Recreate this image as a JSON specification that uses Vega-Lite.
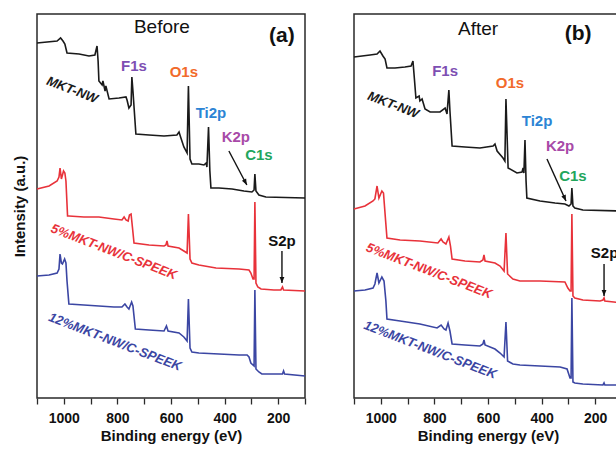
{
"$schema": "https://vega.github.io/schema/vega-lite/v6.json",
"padding": {"left": 11, "top": 13, "right": 0, "bottom": 0},
"spacing": 41,
"config": {"font": "Liberation Sans", "view": {"stroke": "#2a2a2a", "strokeWidth": 1.5}},
"datasets": {
"spec": [
{"p":"a","k":"bk","e":1100,"v":355},{"p":"a","k":"bk","e":1025,"v":357},{"p":"a","k":"bk","e":1012,"v":360},{"p":"a","k":"bk","e":1003,"v":357},{"p":"a","k":"bk","e":996,"v":354},{"p":"a","k":"bk","e":988,"v":345},{"p":"a","k":"bk","e":943,"v":344},{"p":"a","k":"bk","e":906,"v":342},{"p":"a","k":"bk","e":884,"v":343},{"p":"a","k":"bk","e":876,"v":352},{"p":"a","k":"bk","e":872,"v":337},{"p":"a","k":"bk","e":869,"v":317},{"p":"a","k":"bk","e":857,"v":313},{"p":"a","k":"bk","e":854,"v":317},{"p":"a","k":"bk","e":846,"v":307},{"p":"a","k":"bk","e":843,"v":312},{"p":"a","k":"bk","e":831,"v":299},{"p":"a","k":"bk","e":794,"v":300},{"p":"a","k":"bk","e":768,"v":301},{"p":"a","k":"bk","e":764,"v":298},{"p":"a","k":"bk","e":757,"v":290},{"p":"a","k":"bk","e":749,"v":293},{"p":"a","k":"bk","e":746,"v":321},{"p":"a","k":"bk","e":742,"v":307},{"p":"a","k":"bk","e":731,"v":264},{"p":"a","k":"bk","e":682,"v":263},{"p":"a","k":"bk","e":626,"v":262},{"p":"a","k":"bk","e":578,"v":263},{"p":"a","k":"bk","e":570,"v":266},{"p":"a","k":"bk","e":563,"v":260},{"p":"a","k":"bk","e":552,"v":251},{"p":"a","k":"bk","e":540,"v":245},{"p":"a","k":"bk","e":535,"v":312},{"p":"a","k":"bk","e":529,"v":239},{"p":"a","k":"bk","e":522,"v":234},{"p":"a","k":"bk","e":496,"v":234},{"p":"a","k":"bk","e":477,"v":233},{"p":"a","k":"bk","e":469,"v":235},{"p":"a","k":"bk","e":466,"v":231},{"p":"a","k":"bk","e":460,"v":271},{"p":"a","k":"bk","e":455,"v":227},{"p":"a","k":"bk","e":451,"v":210},{"p":"a","k":"bk","e":421,"v":210},{"p":"a","k":"bk","e":372,"v":209},{"p":"a","k":"bk","e":328,"v":207},{"p":"a","k":"bk","e":298,"v":206},{"p":"a","k":"bk","e":290,"v":208},{"p":"a","k":"bk","e":287,"v":224},{"p":"a","k":"bk","e":283,"v":207},{"p":"a","k":"bk","e":272,"v":203},{"p":"a","k":"bk","e":246,"v":201},{"p":"a","k":"bk","e":100,"v":200},
{"p":"a","k":"rd","e":1100,"v":209},{"p":"a","k":"rd","e":1055,"v":212},{"p":"a","k":"rd","e":1025,"v":217},{"p":"a","k":"rd","e":1018,"v":221},{"p":"a","k":"rd","e":1014,"v":230},{"p":"a","k":"rd","e":1009,"v":219},{"p":"a","k":"rd","e":1001,"v":227},{"p":"a","k":"rd","e":996,"v":225},{"p":"a","k":"rd","e":992,"v":217},{"p":"a","k":"rd","e":986,"v":182},{"p":"a","k":"rd","e":981,"v":182},{"p":"a","k":"rd","e":925,"v":181},{"p":"a","k":"rd","e":869,"v":181},{"p":"a","k":"rd","e":813,"v":179},{"p":"a","k":"rd","e":783,"v":178},{"p":"a","k":"rd","e":775,"v":181},{"p":"a","k":"rd","e":768,"v":178},{"p":"a","k":"rd","e":760,"v":177},{"p":"a","k":"rd","e":755,"v":183},{"p":"a","k":"rd","e":749,"v":184},{"p":"a","k":"rd","e":744,"v":171},{"p":"a","k":"rd","e":738,"v":155},{"p":"a","k":"rd","e":682,"v":153},{"p":"a","k":"rd","e":626,"v":152},{"p":"a","k":"rd","e":619,"v":153},{"p":"a","k":"rd","e":615,"v":157},{"p":"a","k":"rd","e":611,"v":152},{"p":"a","k":"rd","e":570,"v":150},{"p":"a","k":"rd","e":552,"v":147},{"p":"a","k":"rd","e":540,"v":145},{"p":"a","k":"rd","e":535,"v":184},{"p":"a","k":"rd","e":529,"v":139},{"p":"a","k":"rd","e":522,"v":135},{"p":"a","k":"rd","e":496,"v":133},{"p":"a","k":"rd","e":432,"v":130},{"p":"a","k":"rd","e":346,"v":129},{"p":"a","k":"rd","e":309,"v":128},{"p":"a","k":"rd","e":302,"v":125},{"p":"a","k":"rd","e":294,"v":119},{"p":"a","k":"rd","e":290,"v":119},{"p":"a","k":"rd","e":287,"v":196},{"p":"a","k":"rd","e":283,"v":115},{"p":"a","k":"rd","e":276,"v":111},{"p":"a","k":"rd","e":264,"v":109},{"p":"a","k":"rd","e":216,"v":108},{"p":"a","k":"rd","e":190,"v":108},{"p":"a","k":"rd","e":184,"v":111},{"p":"a","k":"rd","e":180,"v":108},{"p":"a","k":"rd","e":100,"v":107},
{"p":"a","k":"bl","e":1100,"v":122},{"p":"a","k":"bl","e":1055,"v":123},{"p":"a","k":"bl","e":1025,"v":125},{"p":"a","k":"bl","e":1018,"v":129},{"p":"a","k":"bl","e":1014,"v":144},{"p":"a","k":"bl","e":1009,"v":135},{"p":"a","k":"bl","e":1005,"v":134},{"p":"a","k":"bl","e":997,"v":139},{"p":"a","k":"bl","e":992,"v":135},{"p":"a","k":"bl","e":988,"v":117},{"p":"a","k":"bl","e":981,"v":94},{"p":"a","k":"bl","e":925,"v":93},{"p":"a","k":"bl","e":869,"v":92},{"p":"a","k":"bl","e":813,"v":91},{"p":"a","k":"bl","e":783,"v":91},{"p":"a","k":"bl","e":772,"v":94},{"p":"a","k":"bl","e":764,"v":91},{"p":"a","k":"bl","e":757,"v":89},{"p":"a","k":"bl","e":747,"v":96},{"p":"a","k":"bl","e":742,"v":92},{"p":"a","k":"bl","e":733,"v":69},{"p":"a","k":"bl","e":682,"v":68},{"p":"a","k":"bl","e":626,"v":67},{"p":"a","k":"bl","e":617,"v":72},{"p":"a","k":"bl","e":611,"v":67},{"p":"a","k":"bl","e":570,"v":65},{"p":"a","k":"bl","e":552,"v":61},{"p":"a","k":"bl","e":540,"v":57},{"p":"a","k":"bl","e":535,"v":99},{"p":"a","k":"bl","e":529,"v":50},{"p":"a","k":"bl","e":522,"v":46},{"p":"a","k":"bl","e":496,"v":45},{"p":"a","k":"bl","e":421,"v":44},{"p":"a","k":"bl","e":346,"v":43},{"p":"a","k":"bl","e":316,"v":43},{"p":"a","k":"bl","e":309,"v":41},{"p":"a","k":"bl","e":302,"v":35},{"p":"a","k":"bl","e":290,"v":32},{"p":"a","k":"bl","e":287,"v":108},{"p":"a","k":"bl","e":283,"v":29},{"p":"a","k":"bl","e":272,"v":26},{"p":"a","k":"bl","e":261,"v":24},{"p":"a","k":"bl","e":216,"v":24},{"p":"a","k":"bl","e":184,"v":24},{"p":"a","k":"bl","e":180,"v":27},{"p":"a","k":"bl","e":176,"v":24},{"p":"a","k":"bl","e":100,"v":22},
{"p":"b","k":"bk","e":1100,"v":341},{"p":"b","k":"bk","e":1040,"v":343},{"p":"b","k":"bk","e":1014,"v":344},{"p":"b","k":"bk","e":1003,"v":347},{"p":"b","k":"bk","e":992,"v":342},{"p":"b","k":"bk","e":984,"v":339},{"p":"b","k":"bk","e":977,"v":330},{"p":"b","k":"bk","e":947,"v":330},{"p":"b","k":"bk","e":910,"v":331},{"p":"b","k":"bk","e":887,"v":332},{"p":"b","k":"bk","e":880,"v":337},{"p":"b","k":"bk","e":874,"v":317},{"p":"b","k":"bk","e":869,"v":300},{"p":"b","k":"bk","e":857,"v":302},{"p":"b","k":"bk","e":854,"v":297},{"p":"b","k":"bk","e":846,"v":299},{"p":"b","k":"bk","e":835,"v":289},{"p":"b","k":"bk","e":816,"v":286},{"p":"b","k":"bk","e":779,"v":286},{"p":"b","k":"bk","e":760,"v":290},{"p":"b","k":"bk","e":753,"v":284},{"p":"b","k":"bk","e":746,"v":308},{"p":"b","k":"bk","e":742,"v":287},{"p":"b","k":"bk","e":734,"v":252},{"p":"b","k":"bk","e":686,"v":251},{"p":"b","k":"bk","e":630,"v":250},{"p":"b","k":"bk","e":581,"v":252},{"p":"b","k":"bk","e":574,"v":254},{"p":"b","k":"bk","e":566,"v":247},{"p":"b","k":"bk","e":544,"v":240},{"p":"b","k":"bk","e":537,"v":237},{"p":"b","k":"bk","e":533,"v":299},{"p":"b","k":"bk","e":525,"v":230},{"p":"b","k":"bk","e":492,"v":225},{"p":"b","k":"bk","e":473,"v":226},{"p":"b","k":"bk","e":469,"v":230},{"p":"b","k":"bk","e":466,"v":225},{"p":"b","k":"bk","e":462,"v":258},{"p":"b","k":"bk","e":458,"v":217},{"p":"b","k":"bk","e":455,"v":200},{"p":"b","k":"bk","e":406,"v":197},{"p":"b","k":"bk","e":350,"v":195},{"p":"b","k":"bk","e":313,"v":194},{"p":"b","k":"bk","e":298,"v":192},{"p":"b","k":"bk","e":290,"v":194},{"p":"b","k":"bk","e":287,"v":210},{"p":"b","k":"bk","e":283,"v":192},{"p":"b","k":"bk","e":276,"v":190},{"p":"b","k":"bk","e":246,"v":188},{"p":"b","k":"bk","e":100,"v":187},
{"p":"b","k":"rd","e":1100,"v":189},{"p":"b","k":"rd","e":1059,"v":192},{"p":"b","k":"rd","e":1029,"v":197},{"p":"b","k":"rd","e":1022,"v":199},{"p":"b","k":"rd","e":1014,"v":212},{"p":"b","k":"rd","e":1007,"v":200},{"p":"b","k":"rd","e":996,"v":207},{"p":"b","k":"rd","e":990,"v":205},{"p":"b","k":"rd","e":982,"v":177},{"p":"b","k":"rd","e":977,"v":160},{"p":"b","k":"rd","e":928,"v":158},{"p":"b","k":"rd","e":854,"v":157},{"p":"b","k":"rd","e":787,"v":155},{"p":"b","k":"rd","e":775,"v":159},{"p":"b","k":"rd","e":768,"v":156},{"p":"b","k":"rd","e":757,"v":154},{"p":"b","k":"rd","e":746,"v":161},{"p":"b","k":"rd","e":740,"v":152},{"p":"b","k":"rd","e":734,"v":139},{"p":"b","k":"rd","e":686,"v":137},{"p":"b","k":"rd","e":630,"v":136},{"p":"b","k":"rd","e":619,"v":138},{"p":"b","k":"rd","e":615,"v":143},{"p":"b","k":"rd","e":611,"v":137},{"p":"b","k":"rd","e":574,"v":135},{"p":"b","k":"rd","e":555,"v":132},{"p":"b","k":"rd","e":540,"v":127},{"p":"b","k":"rd","e":533,"v":165},{"p":"b","k":"rd","e":527,"v":124},{"p":"b","k":"rd","e":507,"v":119},{"p":"b","k":"rd","e":481,"v":117},{"p":"b","k":"rd","e":406,"v":117},{"p":"b","k":"rd","e":313,"v":116},{"p":"b","k":"rd","e":302,"v":110},{"p":"b","k":"rd","e":294,"v":107},{"p":"b","k":"rd","e":290,"v":107},{"p":"b","k":"rd","e":287,"v":184},{"p":"b","k":"rd","e":283,"v":102},{"p":"b","k":"rd","e":276,"v":100},{"p":"b","k":"rd","e":246,"v":98},{"p":"b","k":"rd","e":182,"v":97},{"p":"b","k":"rd","e":171,"v":98},{"p":"b","k":"rd","e":167,"v":100},{"p":"b","k":"rd","e":164,"v":97},{"p":"b","k":"rd","e":100,"v":95},
{"p":"b","k":"bl","e":1100,"v":107},{"p":"b","k":"bl","e":1059,"v":108},{"p":"b","k":"bl","e":1029,"v":110},{"p":"b","k":"bl","e":1022,"v":114},{"p":"b","k":"bl","e":1014,"v":125},{"p":"b","k":"bl","e":1007,"v":115},{"p":"b","k":"bl","e":996,"v":121},{"p":"b","k":"bl","e":988,"v":117},{"p":"b","k":"bl","e":981,"v":97},{"p":"b","k":"bl","e":977,"v":79},{"p":"b","k":"bl","e":928,"v":77},{"p":"b","k":"bl","e":854,"v":74},{"p":"b","k":"bl","e":790,"v":70},{"p":"b","k":"bl","e":775,"v":73},{"p":"b","k":"bl","e":764,"v":69},{"p":"b","k":"bl","e":757,"v":68},{"p":"b","k":"bl","e":749,"v":75},{"p":"b","k":"bl","e":742,"v":67},{"p":"b","k":"bl","e":734,"v":54},{"p":"b","k":"bl","e":686,"v":53},{"p":"b","k":"bl","e":630,"v":52},{"p":"b","k":"bl","e":619,"v":54},{"p":"b","k":"bl","e":615,"v":58},{"p":"b","k":"bl","e":611,"v":53},{"p":"b","k":"bl","e":574,"v":49},{"p":"b","k":"bl","e":555,"v":45},{"p":"b","k":"bl","e":540,"v":41},{"p":"b","k":"bl","e":533,"v":76},{"p":"b","k":"bl","e":527,"v":37},{"p":"b","k":"bl","e":507,"v":34},{"p":"b","k":"bl","e":481,"v":33},{"p":"b","k":"bl","e":406,"v":32},{"p":"b","k":"bl","e":331,"v":31},{"p":"b","k":"bl","e":305,"v":29},{"p":"b","k":"bl","e":294,"v":20},{"p":"b","k":"bl","e":290,"v":20},{"p":"b","k":"bl","e":287,"v":100},{"p":"b","k":"bl","e":283,"v":16},{"p":"b","k":"bl","e":276,"v":15},{"p":"b","k":"bl","e":246,"v":14},{"p":"b","k":"bl","e":171,"v":13},{"p":"b","k":"bl","e":167,"v":15},{"p":"b","k":"bl","e":164,"v":13},{"p":"b","k":"bl","e":100,"v":13}
],
"ann": [
{"p":"a","kind":"peak","t":"F1s","k":"F","e":738,"v":332},
{"p":"a","kind":"peak","t":"O1s","k":"O","e":552,"v":326},
{"p":"a","kind":"peak","t":"Ti2p","k":"Ti","e":451,"v":285},
{"p":"a","kind":"peak","t":"K2p","k":"K","e":358,"v":261},
{"p":"a","kind":"peak","t":"C1s","k":"C","e":272,"v":243},
{"p":"a","kind":"peak","t":"S2p","k":"S","e":186,"v":157},
{"p":"a","kind":"head","t":"Before","k":"S","e":634,"v":371},
{"p":"a","kind":"letter","t":"(a)","k":"S","e":186,"v":362},
{"p":"a","kind":"sample","t":"MKT-NW","k":"bk","e":969,"v":308},
{"p":"a","kind":"sample","t":"5%MKT-NW/C-SPEEK","k":"rd","e":813,"v":146},
{"p":"a","kind":"sample","t":"12%MKT-NW/C-SPEEK","k":"bl","e":809,"v":56},
{"p":"b","kind":"peak","t":"F1s","k":"F","e":760,"v":327},
{"p":"b","kind":"peak","t":"O1s","k":"O","e":518,"v":315},
{"p":"b","kind":"peak","t":"Ti2p","k":"Ti","e":417,"v":277},
{"p":"b","kind":"peak","t":"K2p","k":"K","e":331,"v":252},
{"p":"b","kind":"peak","t":"C1s","k":"C","e":283,"v":222},
{"p":"b","kind":"peak","t":"S2p","k":"S","e":165,"v":145},
{"p":"b","kind":"head","t":"After","k":"S","e":637,"v":369},
{"p":"b","kind":"letter","t":"(b)","k":"S","e":264,"v":364},
{"p":"b","kind":"sample","t":"MKT-NW","k":"bk","e":954,"v":293},
{"p":"b","kind":"sample","t":"5%MKT-NW/C-SPEEK","k":"rd","e":820,"v":127},
{"p":"b","kind":"sample","t":"12%MKT-NW/C-SPEEK","k":"bl","e":816,"v":48}
],
"arrows": [
{"p":"a","t":"K2p","e":384,"v":247,"e2":317,"v2":213},
{"p":"a","t":"S2p","e":186,"v":147,"e2":186,"v2":115},
{"p":"b","t":"K2p","e":380,"v":239,"e2":309,"v2":197},
{"p":"b","t":"S2p","e":167,"v":134,"e2":167,"v2":102}
]
},
"hconcat": [
{
"width": 268, "height": 384,
"encoding": {
"x": {"type": "quantitative", "scale": {"domain": [100, 1100], "reverse": true, "nice": false, "zero": false},
 "axis": {"values": [1100,1000,900,800,700,600,500,400,300,200,100], "labelExpr": "datum.value % 200 == 0 ? datum.label : ''", "format": "d", "tickSize": 6, "tickWidth": 1.3, "tickColor": "#2a2a2a", "labelFontSize": 14, "labelFontWeight": "bold", "labelColor": "#111", "labelPadding": 7, "labelFlush": false, "title": "Binding energy (eV)", "titleFontSize": 15, "titleFontWeight": "bold", "titleColor": "#111", "titlePadding": 3, "domain": false, "grid": false}},
"y": {"type": "quantitative", "scale": {"domain": [0, 384], "nice": false, "zero": false},
 "axis": {"title": "Intensity (a.u.)", "labels": false, "ticks": false, "domain": false, "grid": false, "titleFontSize": 15, "titleFontWeight": "bold", "titleColor": "#111", "titlePadding": 10}}
},
"layer": [
{"data": {"name": "spec"}, "transform": [{"filter": "datum.p == 'a'"}], "mark": {"type": "line", "strokeWidth": 1.6},
 "encoding": {"x": {"field": "e"}, "y": {"field": "v"}, "color": {"field": "k", "type": "nominal", "legend": null,
  "scale": {"domain": ["bk","rd","bl","F","O","Ti","K","C","S"], "range": ["#1a1a1a","#e8323a","#3b46a3","#7d4fb3","#f26a2b","#2c84d4","#a84aa8","#22a65c","#111111"]}}}},
{"data": {"name": "arrows"}, "transform": [{"filter": "datum.p == 'a'"}], "mark": {"type": "rule", "strokeWidth": 1.4, "color": "#111"},
 "encoding": {"x": {"field": "e"}, "y": {"field": "v"}, "x2": {"field": "e2"}, "y2": {"field": "v2"}}},
{"data": {"name": "arrows"}, "transform": [{"filter": "datum.p == 'a' && datum.t == 'K2p'"}], "mark": {"type": "point", "shape": "M0,0L-0.4,-1L0.4,-1Z", "filled": true, "color": "#111", "size": 144, "angle": 332, "opacity": 1},
 "encoding": {"x": {"field": "e2"}, "y": {"field": "v2"}}},
{"data": {"name": "arrows"}, "transform": [{"filter": "datum.p == 'a' && datum.t == 'S2p'"}], "mark": {"type": "point", "shape": "M0,0L-0.4,-1L0.4,-1Z", "filled": true, "color": "#111", "size": 144, "opacity": 1},
 "encoding": {"x": {"field": "e2"}, "y": {"field": "v2"}}},
{"data": {"name": "ann"}, "transform": [{"filter": "datum.p == 'a' && datum.kind == 'peak'"}], "mark": {"type": "text", "fontSize": 15, "fontWeight": "bold", "baseline": "middle"},
 "encoding": {"x": {"field": "e"}, "y": {"field": "v"}, "text": {"field": "t"}, "color": {"field": "k", "type": "nominal", "legend": null}}},
{"data": {"name": "ann"}, "transform": [{"filter": "datum.p == 'a' && datum.kind == 'sample'"}], "mark": {"type": "text", "fontSize": 13, "fontWeight": "bold", "fontStyle": "italic", "angle": 21, "baseline": "middle"},
 "encoding": {"x": {"field": "e"}, "y": {"field": "v"}, "text": {"field": "t"}, "color": {"field": "k", "type": "nominal", "legend": null}}},
{"data": {"name": "ann"}, "transform": [{"filter": "datum.p == 'a' && datum.kind == 'head'"}], "mark": {"type": "text", "fontSize": 19, "color": "#111", "baseline": "middle"},
 "encoding": {"x": {"field": "e"}, "y": {"field": "v"}, "text": {"field": "t"}}},
{"data": {"name": "ann"}, "transform": [{"filter": "datum.p == 'a' && datum.kind == 'letter'"}], "mark": {"type": "text", "fontSize": 21, "fontWeight": "bold", "color": "#111", "baseline": "middle"},
 "encoding": {"x": {"field": "e"}, "y": {"field": "v"}, "text": {"field": "t"}}}
]
},
{
"width": 268, "height": 384,
"encoding": {
"x": {"type": "quantitative", "scale": {"domain": [100, 1100], "reverse": true, "nice": false, "zero": false},
 "axis": {"values": [1100,1000,900,800,700,600,500,400,300,200,100], "labelExpr": "datum.value % 200 == 0 ? datum.label : ''", "format": "d", "tickSize": 6, "tickWidth": 1.3, "tickColor": "#2a2a2a", "labelFontSize": 14, "labelFontWeight": "bold", "labelColor": "#111", "labelPadding": 7, "labelFlush": false, "title": "Binding energy (eV)", "titleFontSize": 15, "titleFontWeight": "bold", "titleColor": "#111", "titlePadding": 3, "domain": false, "grid": false}},
"y": {"type": "quantitative", "scale": {"domain": [0, 384], "nice": false, "zero": false}, "axis": null}
},
"layer": [
{"data": {"name": "spec"}, "transform": [{"filter": "datum.p == 'b'"}], "mark": {"type": "line", "strokeWidth": 1.6},
 "encoding": {"x": {"field": "e"}, "y": {"field": "v"}, "color": {"field": "k", "type": "nominal", "legend": null,
  "scale": {"domain": ["bk","rd","bl","F","O","Ti","K","C","S"], "range": ["#1a1a1a","#e8323a","#3b46a3","#7d4fb3","#f26a2b","#2c84d4","#a84aa8","#22a65c","#111111"]}}}},
{"data": {"name": "arrows"}, "transform": [{"filter": "datum.p == 'b'"}], "mark": {"type": "rule", "strokeWidth": 1.4, "color": "#111"},
 "encoding": {"x": {"field": "e"}, "y": {"field": "v"}, "x2": {"field": "e2"}, "y2": {"field": "v2"}}},
{"data": {"name": "arrows"}, "transform": [{"filter": "datum.p == 'b' && datum.t == 'K2p'"}], "mark": {"type": "point", "shape": "M0,0L-0.4,-1L0.4,-1Z", "filled": true, "color": "#111", "size": 144, "angle": 336, "opacity": 1},
 "encoding": {"x": {"field": "e2"}, "y": {"field": "v2"}}},
{"data": {"name": "arrows"}, "transform": [{"filter": "datum.p == 'b' && datum.t == 'S2p'"}], "mark": {"type": "point", "shape": "M0,0L-0.4,-1L0.4,-1Z", "filled": true, "color": "#111", "size": 144, "opacity": 1},
 "encoding": {"x": {"field": "e2"}, "y": {"field": "v2"}}},
{"data": {"name": "ann"}, "transform": [{"filter": "datum.p == 'b' && datum.kind == 'peak'"}], "mark": {"type": "text", "fontSize": 15, "fontWeight": "bold", "baseline": "middle"},
 "encoding": {"x": {"field": "e"}, "y": {"field": "v"}, "text": {"field": "t"}, "color": {"field": "k", "type": "nominal", "legend": null}}},
{"data": {"name": "ann"}, "transform": [{"filter": "datum.p == 'b' && datum.kind == 'sample'"}], "mark": {"type": "text", "fontSize": 13, "fontWeight": "bold", "fontStyle": "italic", "angle": 21, "baseline": "middle"},
 "encoding": {"x": {"field": "e"}, "y": {"field": "v"}, "text": {"field": "t"}, "color": {"field": "k", "type": "nominal", "legend": null}}},
{"data": {"name": "ann"}, "transform": [{"filter": "datum.p == 'b' && datum.kind == 'head'"}], "mark": {"type": "text", "fontSize": 19, "color": "#111", "baseline": "middle"},
 "encoding": {"x": {"field": "e"}, "y": {"field": "v"}, "text": {"field": "t"}}},
{"data": {"name": "ann"}, "transform": [{"filter": "datum.p == 'b' && datum.kind == 'letter'"}], "mark": {"type": "text", "fontSize": 21, "fontWeight": "bold", "color": "#111", "baseline": "middle"},
 "encoding": {"x": {"field": "e"}, "y": {"field": "v"}, "text": {"field": "t"}}}
]
}
]
}
